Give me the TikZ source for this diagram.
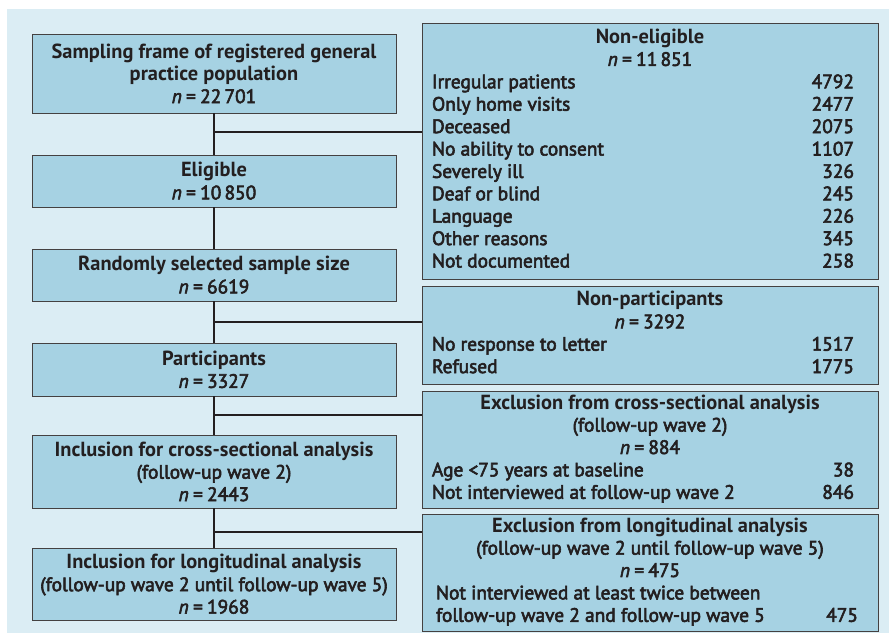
\documentclass[tikz,border=0pt]{standalone}
\usepackage{fontspec}
\setmainfont{PT Sans}
\newfontfamily\medfont{PT Sans}[FakeBold=3]
\definecolor{boxblue}{HTML}{A6D2E3}
\definecolor{bgblue}{HTML}{DBEDF4}
\definecolor{ink}{HTML}{231F20}
\newcommand{\nval}[1]{\textit{n}\hspace{0.22em}=\hspace{0.22em}#1}
\newcommand{\head}[1]{{\fontsize{20.4}{22.4}\selectfont\rmfamily\bfseries #1}}
\newcommand{\hrow}[1]{\multicolumn{2}{@{}c@{}}{#1}}

\begin{document}
\begin{tikzpicture}[x=1pt,y=-1pt,
	box/.style={draw=ink!85, fill=boxblue, line width=0.8pt, text=ink, inner sep=0pt,
		font=\fontsize{19.4}{22.4}\selectfont\medfont},
	flowbox/.style={box, minimum width=364, align=center},
	exbox/.style={box, minimum width=456},
	link/.style={draw=ink, line width=2.4pt}]
	\useasboundingbox[fill=white] (0,0) rectangle (889,635);
	\fill[bgblue] (7,9) rectangle (889,633);

	% main flow
	\node (frame) at (214, 73.5)	[flowbox, minimum height=79]	{\head{Sampling frame of registered general}\\ \head{practice population}\\ \nval{22\,701}};
	\node (elig) at (214, 181)	[flowbox, minimum height=52]	{\head{Eligible}\\ \nval{10\,850}};
	\node (sample) at (214, 275)	[flowbox, minimum height=52]	{\head{Randomly selected sample size}\\ \nval{6619}};
	\node (partic) at (214, 369.5)	[flowbox, minimum height=53]	{\head{Participants}\\ \nval{3327}};
	\node (inclcross) at (214, 471.5)	[flowbox, minimum height=73]	{\head{Inclusion for cross-sectional analysis}\\ (follow-up wave 2)\\ \nval{2443}};
	\node (incllong) at (214, 584)	[flowbox, minimum height=72]	{\head{Inclusion for longitudinal analysis}\\ (follow-up wave 2 until follow-up wave 5)\\ \nval{1968}};

	% side boxes
	\node (nonelig) at (650, 151)	[exbox, minimum height=256]	{\begin{tabular*}{436pt}{@{}l@{\extracolsep{\fill}}r@{\hspace{14pt}}}
		\hrow{\head{Non-eligible}}\\ \hrow{\nval{11\,851}}\\
		Irregular patients & 4792\\ Only home visits & 2477\\ Deceased & 2075\\
		No ability to consent & 1107\\ Severely ill & 326\\ Deaf or blind & 245\\
		Language & 226\\ Other reasons & 345\\ Not documented & 258
	\end{tabular*}};
	\node (nonpart) at (650, 335)	[exbox, minimum height=98]	{\begin{tabular*}{436pt}{@{}l@{\extracolsep{\fill}}r@{\hspace{14pt}}}
		\hrow{\head{Non-participants}}\\ \hrow{\nval{3292}}\\
		No response to letter & 1517\\ Refused & 1775
	\end{tabular*}};
	\node (exclcross) at (650, 449.5)	[exbox, minimum height=117]	{\begin{tabular*}{436pt}{@{}l@{\extracolsep{\fill}}r@{\hspace{14pt}}}
		\hrow{\head{Exclusion from cross-sectional analysis}}\\ \hrow{(follow-up wave 2)}\\ \hrow{\nval{884}}\\
		Age <75 years at baseline & 38\\ Not interviewed at follow-up wave 2 & 846
	\end{tabular*}};
	\node (excllong) at (650, 572.5)	[exbox, minimum height=117]	{\begin{tabular*}{436pt}{@{}l@{\extracolsep{\fill}}r@{\hspace{10pt}}}
		\hrow{\head{Exclusion from longitudinal analysis}}\\ \hrow{(follow-up wave 2 until follow-up wave 5)}\\ \hrow{\nval{475}}\\
		\hspace{4pt}Not interviewed at least twice between & \\ \hspace{4pt}follow-up wave 2 and follow-up wave 5 & 475
	\end{tabular*}};

	% connectors
	\draw[link] (frame) -- (elig);
	\draw[link] (elig) -- (sample);
	\draw[link] (sample) -- (partic);
	\draw[link] (partic) -- (inclcross);
	\draw[link] (inclcross) -- (incllong);
	\coordinate (j1) at (214, 132);
	\coordinate (j2) at (214, 322);
	\coordinate (j3) at (214, 415);
	\coordinate (j4) at (214, 532);
	\draw[link] (j1) -- (j1 -| nonelig.west);
	\draw[link] (j2) -- (j2 -| nonpart.west);
	\draw[link] (j3) -- (j3 -| exclcross.west);
	\draw[link] (j4) -- (j4 -| excllong.west);
\end{tikzpicture}
\end{document}
